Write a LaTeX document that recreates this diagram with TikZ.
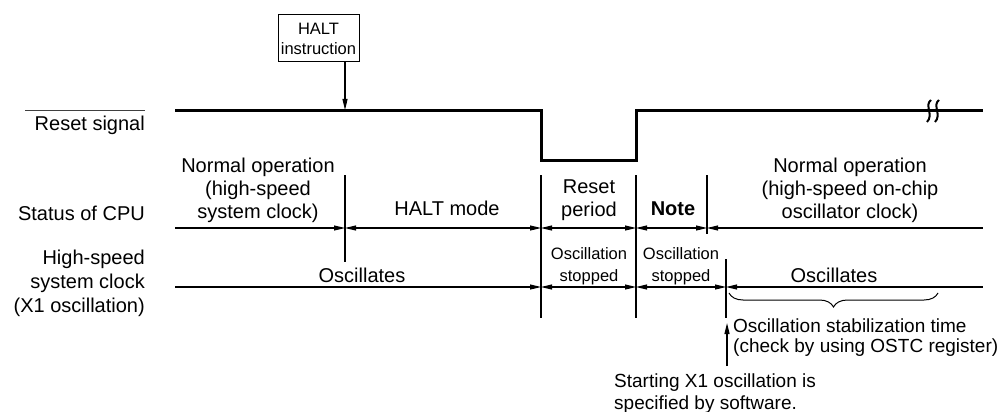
\documentclass[tikz,border=0pt]{standalone}
\usepackage{fontspec}
\setmainfont{Liberation Sans}
\usetikzlibrary{arrows.meta,decorations.pathreplacing}
\begin{document}
\begin{tikzpicture}[x=1pt,y=-1pt,
  >={Triangle[length=11pt,width=5pt]},
  ln/.style={line width=1.2pt},
  sig/.style={line width=3pt},
  big/.style={font=\fontsize{20}{23}\selectfont, align=center, inner sep=0pt},
  mid/.style={font=\fontsize{19}{20}\selectfont, align=left, inner sep=0pt},
  small/.style={font=\fontsize{16.5}{22}\selectfont, align=center, inner sep=0pt},
  lbl/.style={font=\fontsize{20}{24}\selectfont, align=right, inner sep=0pt, anchor=east}]
\useasboundingbox (0,0) rectangle (1002,412);

% coordinates
\coordinate (r0) at (175,110);
\coordinate (rf) at (541,110);
\coordinate (rl1) at (541,160);
\coordinate (rl2) at (636,160);
\coordinate (rr) at (636,110);
\coordinate (r1) at (983,110);
\coordinate (hx) at (345,110);

\coordinate (c0) at (175,228);
\coordinate (c1) at (345,228);
\coordinate (c2) at (541,228);
\coordinate (c3) at (636,228);
\coordinate (c4) at (707,228);
\coordinate (c5) at (983,228);

\coordinate (x0) at (175,287);
\coordinate (x2) at (541,287);
\coordinate (x3) at (636,287);
\coordinate (x4) at (726,287);
\coordinate (x5) at (983,287);

% left labels
\draw[line width=0.8pt, black!75] (25,110) -- (145,110);
\node[lbl] (lreset) at (145,125) {Reset signal};
\node[lbl] (lcpu) at (145,213) {Status of CPU};
\node[lbl] (lx1) at (145,283) {High-speed\\system clock\\(X1 oscillation)};

% HALT instruction box
\node[draw, line width=1pt, minimum width=81pt, minimum height=47pt,
      font=\fontsize{16.5}{20}\selectfont, align=center, inner sep=0pt]
      (halt) at (318.5,38.5) {HALT\\instruction};
\draw[ln,->] (halt.south -| hx) -- (hx);

% reset signal
\draw[sig] (r0) -- (rf) -- (rl1) -- (rl2) -- (rr) -- (r1);
% break mark
\draw[line width=2pt] (931,100) .. controls (924,105) and (934,115) .. (927,122);
\draw[line width=2pt] (939,100) .. controls (932,105) and (942,115) .. (935,122);

% vertical markers
\draw[ln] (345,175) -- (345,262);
\draw[ln] (541,175) -- (541,318);
\draw[ln] (636,175) -- (636,318);
\draw[ln] (707,175) -- (707,234);
\draw[ln] (726,259) -- (726,318);

% CPU row
\draw[ln,->] (c0) -- (c1);
\draw[ln,<->] (c1) -- (c2);
\draw[ln,<->] (c2) -- (c3);
\draw[ln,<->] (c3) -- (c4);
\draw[ln,<-] (c4) -- (c5);

% X1 row
\draw[ln,->] (x0) -- (x2);
\draw[ln,<->] (x2) -- (x3);
\draw[ln,<->] (x3) -- (x4);
\draw[ln,<-] (x4) -- (x5);

% CPU row texts
\node[big] (n1) at (258,190) {Normal operation\\(high-speed\\system clock)};
\node[big] (n2) at (447,208) {HALT mode};
\node[big] (n3) at (589,200) {Reset\\period};
\node[big, font=\fontsize{20}{23}\selectfont\bfseries] (n4) at (673,209) {Note};
\node[big] (n5) at (850,190) {Normal operation\\(high-speed on-chip\\oscillator clock)};

% X1 row texts
\node[big] (o1) at (362,275) {Oscillates};
\node[small] (o2) at (589,266) {Oscillation\\stopped};
\node[small] (o3) at (681,266) {Oscillation\\stopped};
\node[big] (o4) at (834,275) {Oscillates};

% brace
\draw[line width=1pt, decorate, decoration={brace, amplitude=14pt, mirror}]
  (729,293) -- (938,293);

% stabilization arrow and texts
\coordinate (sa) at (727,323);
\coordinate (sb) at (727,366);
\draw[ln,->] (sb) -- (sa);
\node[mid, anchor=west] (stab) at (733,338) {Oscillation stabilization time\\(check by using OSTC register)};
\node[mid, anchor=west, font=\fontsize{19}{22}\selectfont] (start) at (614,394) {Starting X1 oscillation is\\specified by software.};
\end{tikzpicture}
\end{document}
